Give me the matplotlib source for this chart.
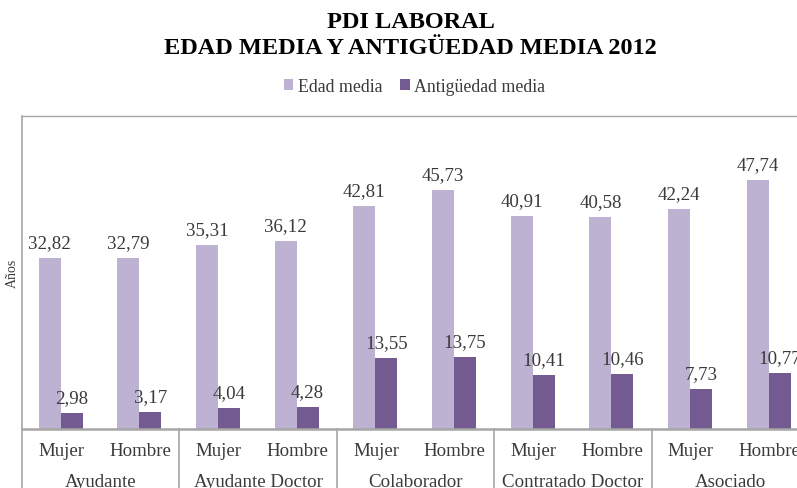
import matplotlib
matplotlib.use("Agg")
import matplotlib.pyplot as plt
import matplotlib.transforms as mtransforms

groups = ["Ayudante", "Ayudante Doctor", "Colaborador", "Contratado Doctor", "Asociado"]
sexes = ["Mujer", "Hombre"]
edad_media = [32.82, 32.79, 35.31, 36.12, 42.81, 45.73, 40.91, 40.58, 42.24, 47.74]
antig_media = [2.98, 3.17, 4.04, 4.28, 13.55, 13.75, 10.41, 10.46, 7.73, 10.77]
series_names = ["Edad media", "Antigüedad media"]
title_lines = ["PDI LABORAL", "EDAD MEDIA Y ANTIGÜEDAD MEDIA 2012"]

c_light = "#BEB2D2"
c_dark = "#735A91"
grey = "#A6A6A6"
txt = "#3A3A3A"

plt.rcParams['font.family'] = ['Liberation Serif', 'DejaVu Serif']

W, H = 797, 489
fig = plt.figure(figsize=(W / 100, H / 100), dpi=100)
left, right, top, bottom = 22, 809, 117, 430
ax = fig.add_axes([left / W, 1 - bottom / H, (right - left) / W, (bottom - top) / H])

n = len(edad_media)
x = list(range(n))
bw = 0.28
xe = [i - bw / 2 - 0.01 for i in x]
xa = [i + bw / 2 - 0.01 for i in x]
b1 = ax.bar(xe, edad_media, width=bw, color=c_light, label=series_names[0], zorder=2)
b2 = ax.bar(xa, antig_media, width=bw, color=c_dark, label=series_names[1], zorder=2)

fs = 13.6
for xi, v in zip(xe, edad_media):
    ax.annotate(f"{v:.2f}".replace(".", ","), (xi, v), xytext=(0, 5), textcoords="offset points",
                ha="center", va="bottom", fontsize=fs, color=txt, annotation_clip=False)
for xi, v in zip(xa, antig_media):
    ax.annotate(f"{v:.2f}".replace(".", ","), (xi, v), xytext=(0, 5), textcoords="offset points",
                ha="center", va="bottom", fontsize=fs, color=txt, annotation_clip=False)

ax.set_xlim(-0.5, n - 0.5)
ax.set_ylim(0, 60)
ax.set_yticks([])
ax.set_xticks(x)
ax.set_xticklabels(sexes * len(groups), fontsize=fs, color=txt)
ax.tick_params(axis="x", length=0, pad=9.5)

for s in ["top", "left", "bottom"]:
    ax.spines[s].set_color(grey)
ax.spines["right"].set_visible(False)
ax.spines["top"].set_linewidth(1.0)
ax.spines["left"].set_linewidth(1.2)
ax.spines["bottom"].set_linewidth(1.8)

trans = mtransforms.blended_transform_factory(ax.transData, ax.transAxes)
for gi, g in enumerate(groups):
    xc = gi * 2 + 0.5
    ax.annotate(g, (xc, 0), xycoords=trans, xytext=(0, -37.5), textcoords="offset points",
                ha="center", va="center", fontsize=fs, color=txt, annotation_clip=False)
    xb = gi * 2 - 0.5
    ax.plot([xb, xb], [0, -0.25], transform=trans, color=grey, lw=1.2, clip_on=False)

ax.set_ylabel("Años", fontsize=10, color=txt, labelpad=2)

fig.text(0.515, 1 - 23 / H, title_lines[0], ha="center", va="center", fontsize=17.5,
         fontweight="bold", color="black")
fig.text(0.515, 1 - 48 / H, title_lines[1], ha="center", va="center", fontsize=17.5,
         fontweight="bold", color="black")

fig.legend(handles=[b1, b2], labels=series_names, loc="center", bbox_to_anchor=(0.52, 1 - 87 / H),
           ncol=2, frameon=False, fontsize=12.8, handlelength=0.55, handleheight=0.55,
           handletextpad=0.25, columnspacing=1.0, labelcolor=txt)

fig.savefig("out.png", dpi=100)
